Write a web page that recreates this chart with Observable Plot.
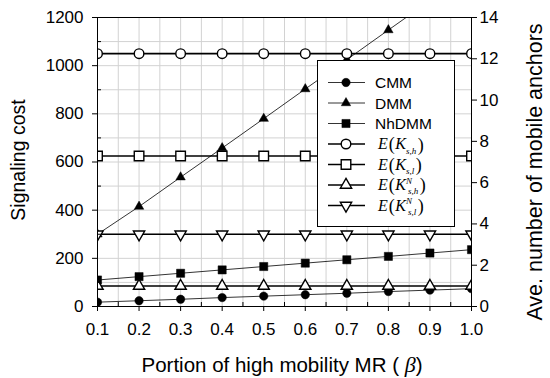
<!DOCTYPE html>
<html><head><meta charset="utf-8">
<script src="https://cdn.jsdelivr.net/npm/d3@7"></script>
<script src="https://cdn.jsdelivr.net/npm/@observablehq/plot@0.6"></script>
<style>
body{margin:0;background:#fff}
#chart{position:relative;width:550px;height:378px}
</style>
</head><body><div id="chart"></div>
<script>
// ---- data ----
const beta = [0.1, 0.2, 0.3, 0.4, 0.5, 0.6, 0.7, 0.8, 0.9, 1.0];
const cmm   = [18, 24, 30, 37, 43, 49, 55, 62, 68, 74];
const dmm   = [300, 415, 537, 658, 780, 903, 1025, 1148, 1270, 1393];
const nhdmm = [110, 124, 138, 152, 166, 180, 194, 208, 222, 236];
const eKsh  = [1050, 1050, 1050, 1050, 1050, 1050, 1050, 1050, 1050, 1050];
const eKsl  = [625, 625, 625, 625, 625, 625, 625, 625, 625, 625];
const eKNsh = [85, 85, 85, 85, 85, 85, 85, 85, 85, 85];
const eKNsl = [300, 300, 300, 300, 300, 300, 300, 300, 300, 300];

const xTicks = [0.1, 0.2, 0.3, 0.4, 0.5, 0.6, 0.7, 0.8, 0.9, 1.0];
const xMinor = [0.15, 0.25, 0.35, 0.45, 0.55, 0.65, 0.75, 0.85, 0.95];
const yTicks = [0, 200, 400, 600, 800, 1000, 1200];
const yMinor = [100, 300, 500, 700, 900, 1100];
const rightTicks = [0, 2, 4, 6, 8, 10, 12, 14];
const rightMax = 14, leftMax = 1200;

const xTitle = "Portion of high mobility MR ( ";
const yTitle = "Signaling cost";
const y2Title = "Ave. number of mobile anchors";

const series = [
  {name: "CMM",   values: cmm,   symbol: "circle",   fill: "black", r: 4.2, lw: 0.8, rot: 0},
  {name: "DMM",   values: dmm,   symbol: "triangle", fill: "black", r: 3.5, lw: 0.8, rot: 0},
  {name: "NhDMM", values: nhdmm, symbol: "square",   fill: "black", r: 4.6, lw: 0.8, rot: 0},
  {name: "E(K_s,h)",  values: eKsh,  symbol: "circle",   fill: "white", r: 4.8, lw: 1.6, rot: 0, sub: "s,h"},
  {name: "E(K_s,l)",  values: eKsl,  symbol: "square",   fill: "white", r: 5.4, lw: 1.6, rot: 0, sub: "s,l"},
  {name: "E(KN_s,h)", values: eKNsh, symbol: "triangle", fill: "white", r: 4.2, lw: 1.6, rot: 0, sub: "s,h", sup: "N"},
  {name: "E(KN_s,l)", values: eKNsl, symbol: "triangle", fill: "white", r: 4.2, lw: 1.6, rot: 180, sub: "s,l", sup: "N"}
];

const rows = s => beta.map((b, i) => ({x: b, y: s.values[i]}));
const grid = "#d2d2d2";

const marks = [
  Plot.gridX(xTicks.concat(xMinor), {stroke: grid, strokeOpacity: 1}),
  Plot.gridY(yTicks.concat(yMinor), {stroke: grid, strokeOpacity: 1})
];
for (const s of series) {
  marks.push(Plot.line(rows(s), {x: "x", y: "y", stroke: "black", strokeWidth: s.lw, clip: true}));
  marks.push(Plot.dot(rows(s), {x: "x", y: "y", symbol: s.symbol, r: s.r, rotate: s.rot,
    fill: s.fill, stroke: "black", strokeWidth: s.fill === "white" ? 1.4 : 0.5, clip: true}));
}
marks.push(
  Plot.frame({stroke: "black", strokeWidth: 1}),
  Plot.axisX(xTicks, {tickSize: 5, tickPadding: 11, tickFormat: d3.format(".1f"), label: null, fontSize: 17}),
  Plot.tickX(xMinor, {x: d => d, stroke: "black", insetTop: 285}),
  Plot.axisY(yTicks, {tickSize: 5, tickPadding: 9, tickFormat: d => String(d), label: null, fontSize: 17}),
  Plot.tickY(yMinor, {y: d => d, stroke: "black", insetRight: 370}),
  Plot.axisY(rightTicks.map(v => v * leftMax / rightMax), {anchor: "right", tickSize: 5, tickPadding: 3,
    tickFormat: d => String(Math.round(d * rightMax / leftMax)), label: null, fontSize: 17})
);

const chart = Plot.plot({
  width: 550, height: 378,
  marginLeft: 97, marginRight: 79, marginTop: 17, marginBottom: 72,
  x: {domain: [0.1, 1.0], label: null},
  y: {domain: [0, 1200], label: null},
  style: {fontFamily: "'Liberation Sans', Arial, sans-serif", fontSize: "17px", background: "white", color: "black", overflow: "visible"},
  marks
});
document.getElementById("chart").appendChild(chart);

// ---- titles ----
const svg = d3.select(chart);
const sans = "'Liberation Sans', Arial, sans-serif";
const serif = "'Liberation Serif', 'Times New Roman', serif";
const xt = svg.append("text").attr("x", 282).attr("y", 372).attr("text-anchor", "middle")
  .attr("font-family", sans).attr("font-size", 20.5).attr("fill", "black");
xt.append("tspan").text(xTitle);
xt.append("tspan").attr("font-family", serif).attr("font-style", "italic").attr("font-size", 22).text("β");
xt.append("tspan").text(")");
svg.append("text").attr("transform", "translate(25,160) rotate(-90)").attr("text-anchor", "middle")
  .attr("font-family", sans).attr("font-size", 19.5).attr("fill", "black").text(yTitle);
svg.append("text").attr("transform", "translate(542,172) rotate(-90)").attr("text-anchor", "middle")
  .attr("font-family", sans).attr("font-size", 21.5).attr("fill", "black").text(y2Title);

// ---- legend ----
const lg = svg.append("g").attr("text-anchor", "start");
lg.append("rect").attr("x", 317.5).attr("y", 60.5).attr("width", 137).attr("height", 166)
  .attr("fill", "white").attr("stroke", "black").attr("stroke-width", 1);
const symMap = {circle: d3.symbolCircle, square: d3.symbolSquare, triangle: d3.symbolTriangle};
series.forEach((s, i) => {
  const cy = 82.5 + i * 20.5;
  lg.append("line").attr("x1", 328).attr("x2", 365).attr("y1", cy).attr("y2", cy)
    .attr("stroke", "black").attr("stroke-width", s.lw);
  lg.append("path").attr("d", d3.symbol(symMap[s.symbol], Math.PI * s.r * s.r)())
    .attr("transform", `translate(346,${cy}) rotate(${s.rot})`)
    .attr("fill", s.fill).attr("stroke", "black").attr("stroke-width", s.fill === "white" ? 1.4 : 0.5);
  if (!s.sub) {
    lg.append("text").attr("x", 375).attr("y", cy + 5.5).attr("text-anchor", "start")
      .attr("font-family", sans).attr("font-size", 15.5).attr("fill", "black").text(s.name);
  } else {
    const t = lg.append("text").attr("x", 378).attr("y", cy + 5).attr("text-anchor", "start")
      .attr("font-family", serif).attr("font-size", 16).attr("fill", "black");
    t.append("tspan").attr("font-style", "italic").text("E");
    t.append("tspan").attr("font-size", 18).attr("dy", 1).attr("dx", 1).text("(");
    t.append("tspan").attr("font-style", "italic").attr("dy", -1).attr("dx", 0.5).text("K");
    if (s.sup) {
      t.append("tspan").attr("font-style", "italic").attr("font-size", 9).attr("dy", -6.5).text(s.sup);
      t.append("tspan").attr("font-style", "italic").attr("font-size", 9).attr("x", 408).attr("dy", 10.5).text(s.sub);
      t.append("tspan").attr("font-size", 18).attr("dy", -3).attr("dx", 1.5).text(")");
    } else {
      t.append("tspan").attr("font-style", "italic").attr("font-size", 9).attr("dy", 4.5).text(s.sub);
      t.append("tspan").attr("font-size", 18).attr("dy", -3).attr("dx", 1.5).text(")");
    }
  }
});
</script>
</body></html>
